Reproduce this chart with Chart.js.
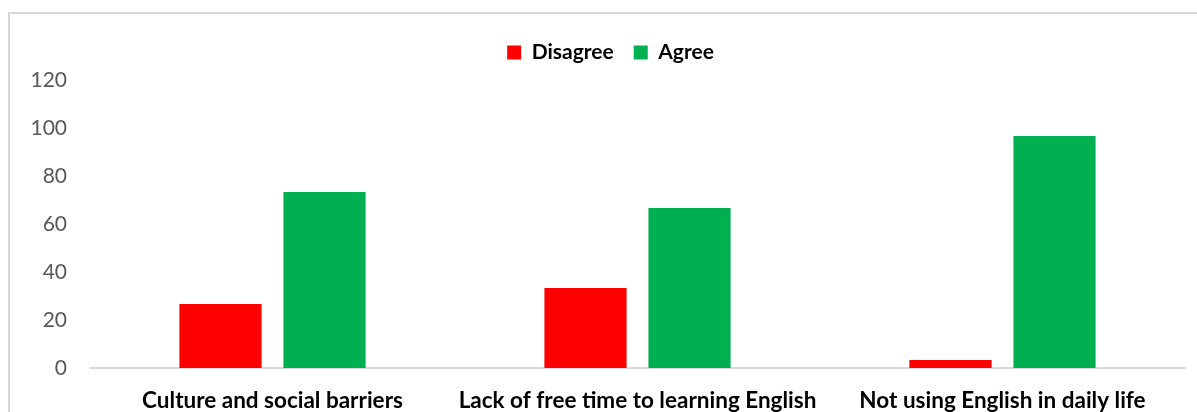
<!DOCTYPE html>
<html>
<head>
<meta charset="utf-8">
<script src="https://cdn.jsdelivr.net/npm/chart.js@4"></script>
<style>
  html, body { margin: 0; padding: 0; background: #fff; overflow: hidden; }
  #wrap { position: relative; width: 1197px; height: 412px; }
  #frame { position: absolute; left: 8px; top: 12px; width: 1300px; height: 600px; border: 2px solid #d9d9d9; box-sizing: border-box; pointer-events: none; }
  canvas { position: absolute; left: 0; top: 0; }
</style>
</head>
<body>
<div id="wrap">
  <div id="frame"></div>
  <canvas id="c" width="1197" height="412"></canvas>
</div>
<script>
const categories = ["Culture and social barriers", "Lack of free time to learning English", "Not using English in daily life"];
const disagree = [26.7, 33.3, 3.3];
const agree = [73.3, 66.7, 96.7];
const yTicks = [0, 20, 40, 60, 80, 100, 120];

const legendSpace = {
  id: 'legendSpace',
  afterInit(chart) {
    const lg = chart.legend;
    if (!lg) return;
    const origFit = lg.fit;
    lg.fit = function () { origFit.call(this); this.height += 7; };
    const origDraw = lg.draw;
    lg.draw = function (area) {
      const ctx = this.ctx;
      ctx.save();
      ctx.translate(18, 0);
      origDraw.call(this, area);
      ctx.restore();
    };
  }
};

new Chart(document.getElementById('c'), {
  type: 'bar',
  data: {
    labels: categories,
    datasets: [
      { label: 'Disagree', data: disagree, backgroundColor: '#FF0000', borderWidth: 0 },
      { label: 'Agree', data: agree, backgroundColor: '#00B050', borderWidth: 0 }
    ]
  },
  plugins: [legendSpace],
  options: {
    responsive: false,
    animation: false,
    devicePixelRatio: 1,
    layout: { padding: { top: 22, right: 12, left: 0, bottom: 0 } },
    datasets: { bar: { categoryPercentage: 0.57, barPercentage: 0.79 } },
    plugins: {
      tooltip: { enabled: false },
      legend: {
        position: 'top',
        labels: {
          boxWidth: 14, boxHeight: 14, padding: 20,
          color: '#000',
          font: { family: 'Lato', size: 21, weight: 'bold' }
        }
      }
    },
    scales: {
      x: {
        grid: { display: false, drawTicks: false },
        border: { display: true, color: '#d9d9d9', width: 2 },
        ticks: { color: '#000', font: { family: 'Lato', size: 22.5, weight: 'bold' }, padding: 19, maxRotation: 0, autoSkip: false },
        afterFit: (s) => { s.height = 44; }
      },
      y: {
        min: 0, max: 120,
        afterBuildTicks: (s) => { s.ticks = yTicks.map(v => ({ value: v })); },
        grid: { display: false, drawTicks: false },
        border: { display: false },
        ticks: { color: '#595959', font: { family: 'Lato', size: 21 }, padding: 23 },
        afterFit: (s) => { s.width = 90; }
      }
    }
  }
});
</script>
</body>
</html>
